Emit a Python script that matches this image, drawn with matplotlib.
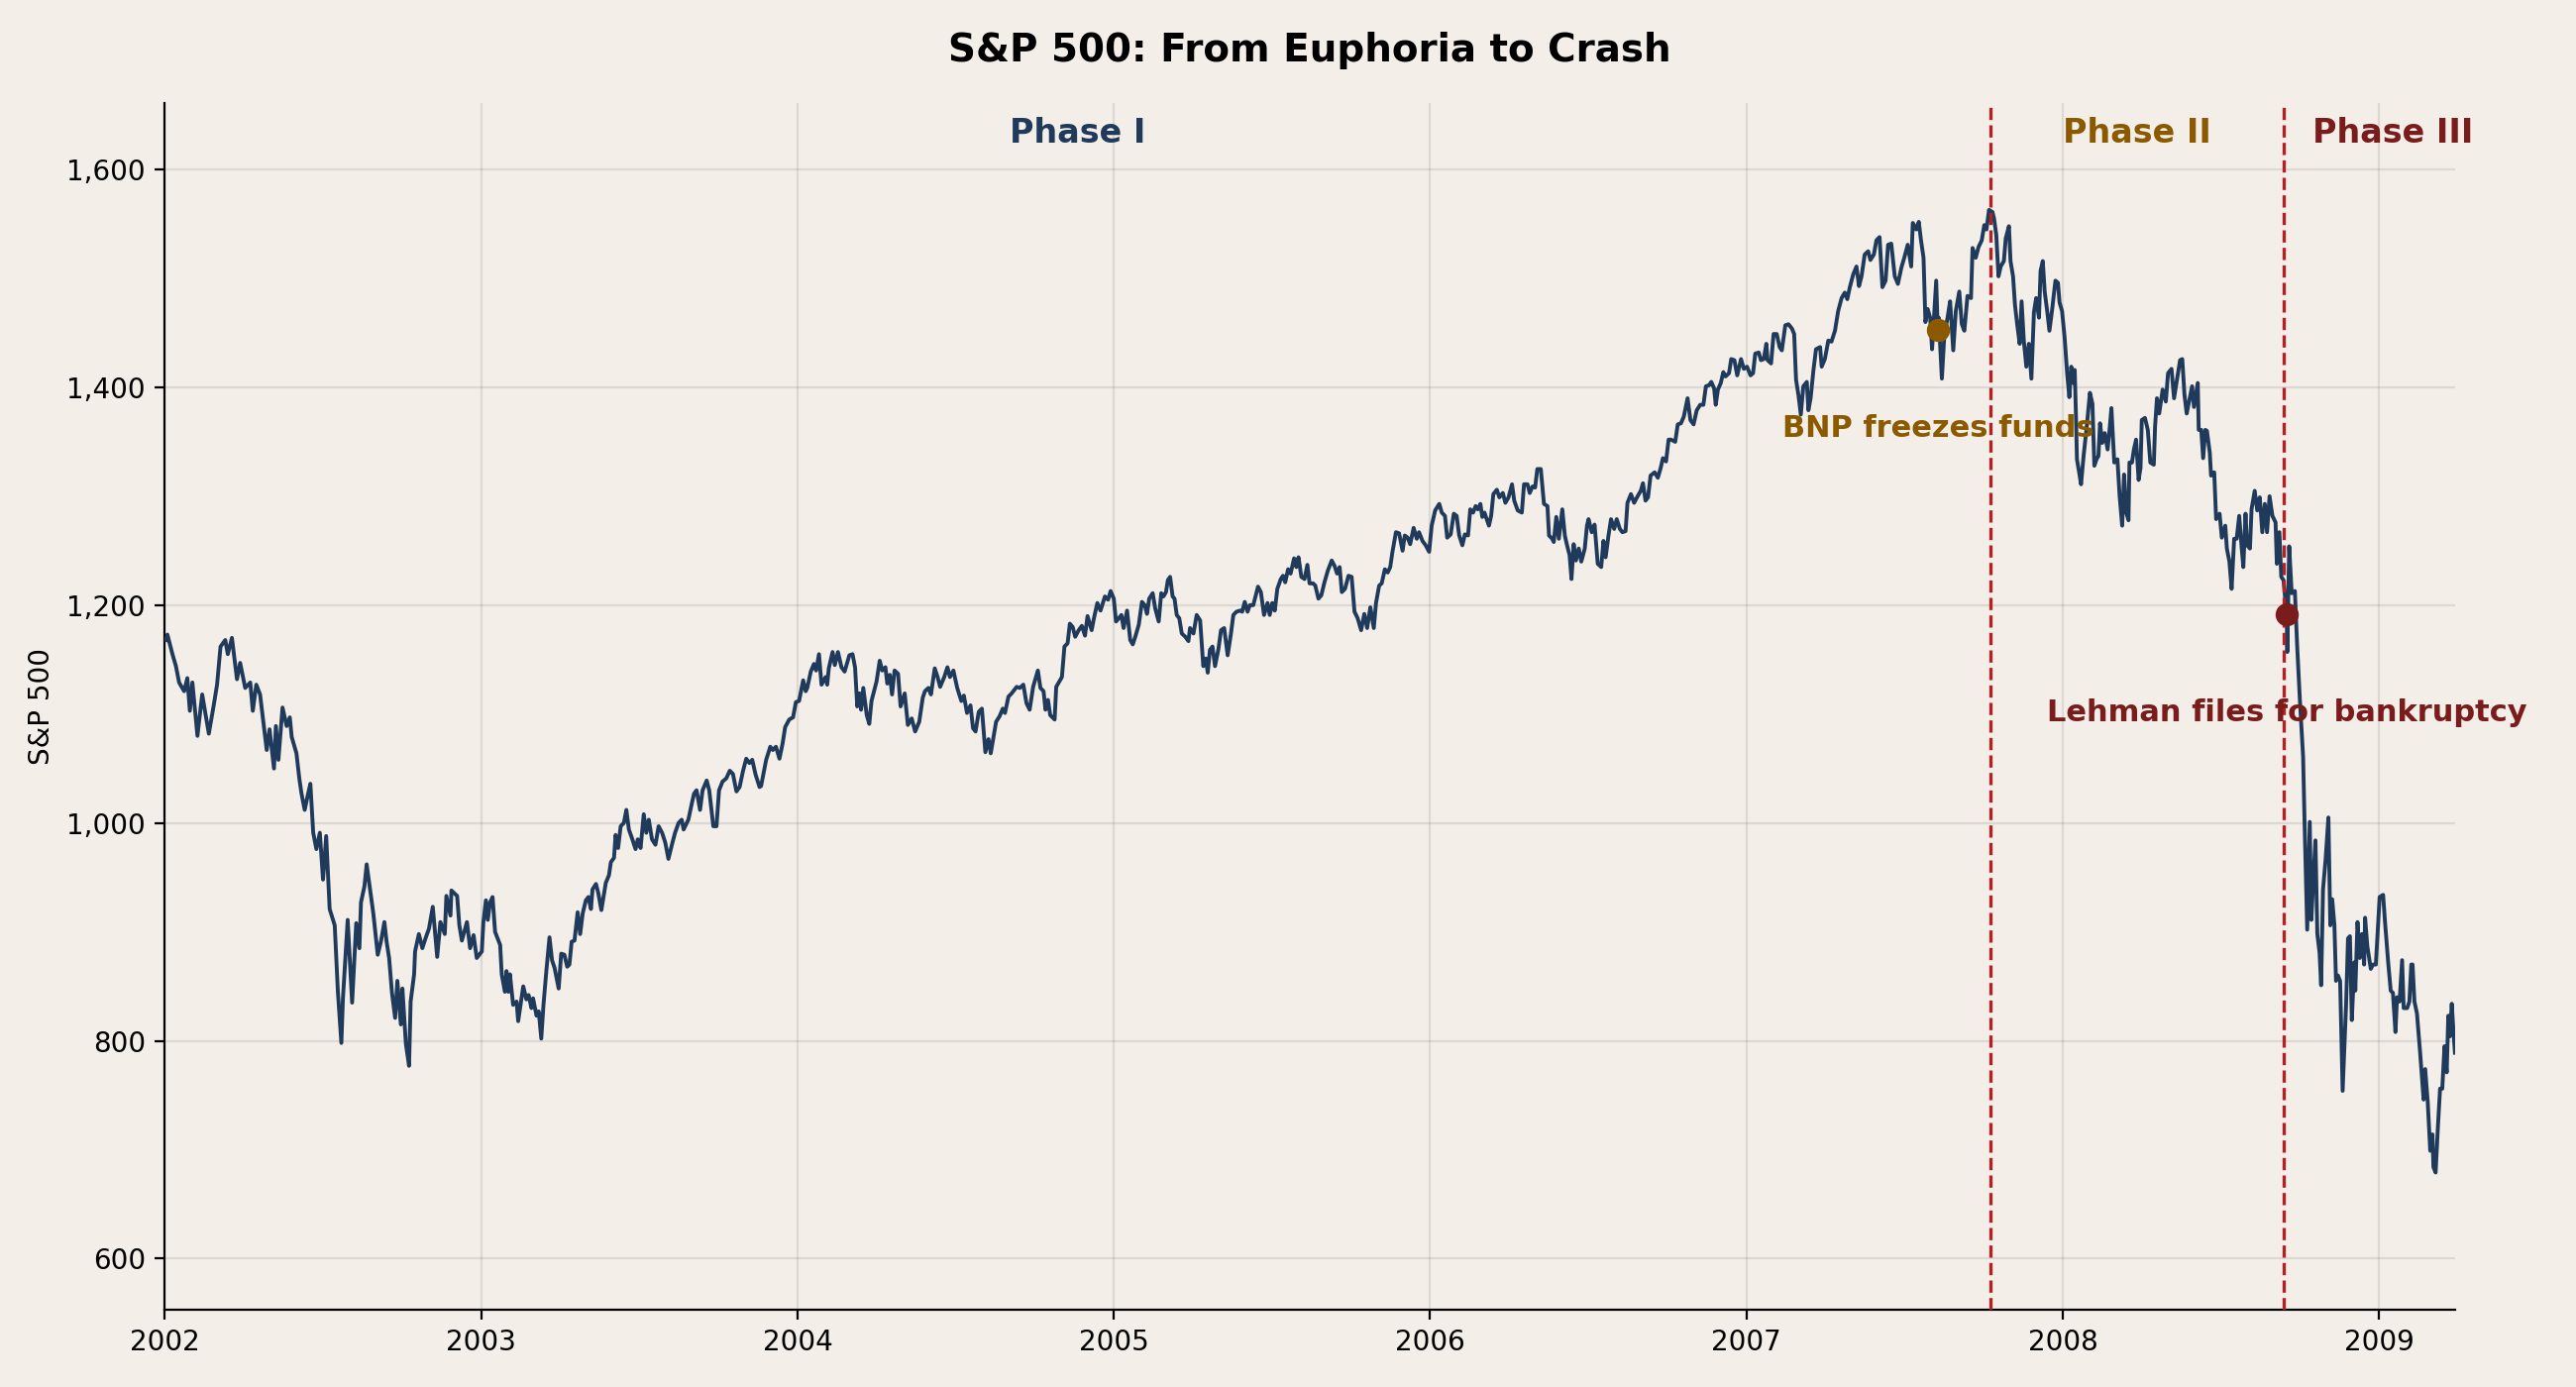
import numpy as np
import matplotlib
matplotlib.use("Agg")
import matplotlib.pyplot as plt
from matplotlib.ticker import FuncFormatter

# ---- data: fraction of year (t) and S&P 500 level (v) ----
frac_2002 = [0.003, 0.008, 0.024, 0.035, 0.045, 0.061, 0.071, 0.079, 0.087, 0.103,
             0.118, 0.139, 0.155, 0.165, 0.176, 0.191, 0.199, 0.212, 0.228, 0.238,
             0.254, 0.270, 0.278, 0.289, 0.301, 0.322, 0.331, 0.345, 0.351, 0.359,
             0.372, 0.385, 0.395, 0.401, 0.416, 0.425, 0.432, 0.442, 0.453, 0.460,
             0.469, 0.479, 0.490, 0.500, 0.510, 0.521, 0.537, 0.547, 0.558, 0.563,
             0.578, 0.592, 0.605, 0.615, 0.620, 0.631, 0.638, 0.646, 0.659, 0.673,
             0.683, 0.694, 0.701, 0.709, 0.718, 0.728, 0.735, 0.746, 0.751, 0.762,
             0.772, 0.777, 0.788, 0.791, 0.803, 0.814, 0.824, 0.835, 0.847, 0.861,
             0.871, 0.885, 0.890, 0.903, 0.906, 0.924, 0.931, 0.939, 0.955, 0.965,
             0.976, 0.986]
vals_2002 = [1168, 1173, 1155, 1144, 1129, 1121, 1133, 1103, 1129, 1080,
             1118, 1082, 1109, 1127, 1162, 1168, 1155, 1170, 1132, 1147,
             1124, 1129, 1103, 1127, 1118, 1067, 1086, 1050, 1089, 1058,
             1106, 1089, 1097, 1079, 1064, 1041, 1027, 1012, 1027, 1036,
             991, 976, 991, 948, 988, 921, 906, 845, 798, 839,
             911, 835, 908, 885, 927, 942, 962, 945, 917, 879,
             891, 909, 891, 876, 844, 821, 855, 815, 848, 797,
             777, 836, 861, 882, 898, 885, 894, 903, 923, 877,
             909, 898, 933, 915, 938, 933, 906, 892, 909, 885,
             897, 876]

frac_2003 = [0.002, 0.007, 0.015, 0.021, 0.028, 0.036, 0.044, 0.060, 0.065, 0.075,
             0.080, 0.086, 0.091, 0.101, 0.112, 0.117, 0.133, 0.143, 0.150, 0.159,
             0.164, 0.175, 0.182, 0.190, 0.197, 0.206, 0.216, 0.224, 0.232, 0.245,
             0.253, 0.263, 0.272, 0.279, 0.286, 0.295, 0.305, 0.313, 0.321, 0.331,
             0.339, 0.347, 0.352, 0.363, 0.370, 0.380, 0.394, 0.404, 0.410, 0.420,
             0.425, 0.433, 0.441, 0.451, 0.459, 0.467, 0.478, 0.488, 0.495, 0.504,
             0.514, 0.522, 0.530, 0.540, 0.551, 0.561, 0.572, 0.582, 0.592, 0.603,
             0.613, 0.624, 0.634, 0.640, 0.655, 0.666, 0.673, 0.681, 0.692, 0.700,
             0.713, 0.721, 0.734, 0.744, 0.752, 0.763, 0.775, 0.786, 0.796, 0.807,
             0.817, 0.828, 0.838, 0.848, 0.857, 0.867, 0.880, 0.885, 0.901, 0.914,
             0.922, 0.932, 0.943, 0.953, 0.961, 0.974, 0.986, 0.995]
vals_2003 = [882, 909, 929, 911, 927, 932, 900, 888, 861, 845,
             864, 845, 861, 833, 836, 818, 850, 838, 842, 830,
             839, 823, 827, 802, 833, 864, 895, 874, 867, 848,
             880, 879, 868, 870, 891, 892, 918, 898, 917, 929,
             932, 921, 939, 944, 936, 920, 945, 952, 964, 968,
             989, 977, 997, 1000, 1012, 994, 985, 976, 985, 977,
             1008, 991, 1003, 985, 980, 997, 991, 982, 967, 980,
             991, 1000, 1003, 994, 1003, 1018, 1027, 1030, 1012, 1030,
             1039, 1030, 997, 997, 1030, 1038, 1041, 1048, 1045, 1029,
             1033, 1048, 1059, 1055, 1058, 1045, 1033, 1034, 1058, 1070,
             1067, 1070, 1059, 1073, 1088, 1095, 1097, 1111]

frac_2004 = [0.005, 0.018, 0.026, 0.031, 0.042, 0.052, 0.059, 0.068, 0.076, 0.089,
             0.094, 0.099, 0.111, 0.118, 0.128, 0.139, 0.149, 0.164, 0.174, 0.182,
             0.189, 0.196, 0.201, 0.208, 0.219, 0.227, 0.234, 0.250, 0.260, 0.268,
             0.278, 0.284, 0.292, 0.299, 0.307, 0.318, 0.326, 0.339, 0.349, 0.361,
             0.372, 0.385, 0.396, 0.403, 0.414, 0.422, 0.434, 0.443, 0.451, 0.464,
             0.474, 0.482, 0.493, 0.505, 0.518, 0.526, 0.536, 0.547, 0.555, 0.563,
             0.573, 0.583, 0.594, 0.604, 0.611, 0.622, 0.628, 0.639, 0.649, 0.656,
             0.667, 0.677, 0.693, 0.703, 0.714, 0.724, 0.734, 0.745, 0.753, 0.760,
             0.768, 0.778, 0.784, 0.792, 0.799, 0.813, 0.818, 0.828, 0.836, 0.844,
             0.854, 0.861, 0.870, 0.878, 0.889, 0.899, 0.909, 0.917, 0.930, 0.938,
             0.948, 0.958, 0.972, 0.982, 0.990]
vals_2004 = [1112, 1131, 1121, 1124, 1139, 1146, 1140, 1155, 1127, 1134,
             1127, 1142, 1157, 1145, 1157, 1143, 1139, 1154, 1155, 1143,
             1107, 1119, 1104, 1124, 1099, 1091, 1112, 1130, 1149, 1140,
             1143, 1128, 1136, 1118, 1140, 1137, 1107, 1119, 1090, 1096,
             1084, 1093, 1115, 1121, 1124, 1118, 1142, 1134, 1125, 1134,
             1143, 1134, 1140, 1124, 1112, 1117, 1101, 1108, 1087, 1084,
             1102, 1105, 1065, 1077, 1064, 1083, 1093, 1098, 1105, 1101,
             1116, 1119, 1125, 1124, 1127, 1110, 1104, 1125, 1133, 1140,
             1124, 1121, 1104, 1113, 1099, 1095, 1125, 1130, 1134, 1162,
             1165, 1183, 1180, 1171, 1177, 1181, 1172, 1190, 1177, 1189,
             1202, 1195, 1208, 1205, 1213]

frac_2005 = [0.000, 0.007, 0.016, 0.024, 0.031, 0.042, 0.052, 0.060, 0.068, 0.079,
             0.089, 0.098, 0.105, 0.112, 0.123, 0.131, 0.142, 0.150, 0.157, 0.165,
             0.171, 0.178, 0.186, 0.192, 0.199, 0.207, 0.215, 0.226, 0.236, 0.241,
             0.252, 0.262, 0.273, 0.283, 0.291, 0.297, 0.304, 0.312, 0.320, 0.331,
             0.339, 0.349, 0.360, 0.370, 0.378, 0.388, 0.399, 0.406, 0.414, 0.423,
             0.430, 0.441, 0.448, 0.456, 0.465, 0.475, 0.486, 0.493, 0.501, 0.509,
             0.517, 0.528, 0.535, 0.542, 0.551, 0.559, 0.570, 0.577, 0.584, 0.593,
             0.603, 0.612, 0.619, 0.630, 0.637, 0.647, 0.656, 0.666, 0.677, 0.689,
             0.698, 0.706, 0.714, 0.721, 0.731, 0.742, 0.752, 0.761, 0.771, 0.782,
             0.792, 0.801, 0.811, 0.822, 0.829, 0.839, 0.847, 0.857, 0.866, 0.874,
             0.881, 0.892, 0.902, 0.913, 0.920, 0.929, 0.937, 0.948, 0.958, 0.965,
             0.976, 0.986, 0.997]
vals_2005 = [1206, 1185, 1188, 1191, 1179, 1195, 1168, 1164, 1171, 1182,
             1203, 1200, 1192, 1206, 1211, 1197, 1185, 1211, 1208, 1212,
             1223, 1226, 1208, 1206, 1191, 1188, 1174, 1171, 1167, 1179,
             1174, 1191, 1186, 1144, 1151, 1138, 1159, 1162, 1144, 1160,
             1177, 1179, 1154, 1173, 1191, 1194, 1195, 1194, 1203, 1194,
             1200, 1200, 1208, 1217, 1212, 1191, 1202, 1191, 1202, 1195,
             1215, 1224, 1227, 1221, 1233, 1229, 1243, 1235, 1244, 1226,
             1224, 1237, 1220, 1220, 1218, 1206, 1209, 1221, 1232, 1241,
             1236, 1229, 1235, 1212, 1215, 1227, 1226, 1194, 1188, 1177,
             1192, 1179, 1198, 1179, 1202, 1218, 1220, 1233, 1230, 1235,
             1249, 1267, 1266, 1250, 1264, 1262, 1256, 1271, 1261, 1267,
             1259, 1255, 1249]

frac_2006 = [0.005, 0.016, 0.029, 0.037, 0.047, 0.054, 0.065, 0.075, 0.084, 0.092,
             0.102, 0.110, 0.120, 0.127, 0.136, 0.144, 0.151, 0.159, 0.165, 0.172,
             0.186, 0.193, 0.200, 0.211, 0.219, 0.230, 0.238, 0.248, 0.259, 0.266,
             0.277, 0.290, 0.297, 0.308, 0.315, 0.324, 0.332, 0.339, 0.350, 0.360,
             0.371, 0.376, 0.386, 0.391, 0.399, 0.407, 0.418, 0.426, 0.433, 0.441,
             0.447, 0.454, 0.461, 0.470, 0.478, 0.489, 0.496, 0.501, 0.511, 0.520,
             0.530, 0.541, 0.548, 0.555, 0.564, 0.572, 0.582, 0.590, 0.600, 0.608,
             0.618, 0.624, 0.635, 0.645, 0.656, 0.666, 0.673, 0.681, 0.689, 0.697,
             0.710, 0.720, 0.729, 0.736, 0.746, 0.754, 0.762, 0.775, 0.783, 0.793,
             0.802, 0.814, 0.823, 0.833, 0.843, 0.854, 0.864, 0.872, 0.882, 0.889,
             0.898, 0.903, 0.910, 0.919, 0.927, 0.934, 0.945, 0.952, 0.962, 0.971,
             0.983, 0.992]
vals_2006 = [1273, 1287, 1293, 1285, 1282, 1262, 1265, 1284, 1282, 1264,
             1255, 1265, 1264, 1288, 1285, 1291, 1288, 1293, 1281, 1285,
             1273, 1282, 1302, 1306, 1299, 1303, 1294, 1299, 1311, 1296,
             1287, 1285, 1311, 1311, 1303, 1309, 1308, 1325, 1325, 1293,
             1291, 1264, 1261, 1258, 1281, 1261, 1288, 1264, 1255, 1246,
             1224, 1256, 1241, 1252, 1240, 1252, 1273, 1279, 1267, 1274,
             1238, 1235, 1259, 1244, 1264, 1279, 1270, 1279, 1270, 1267,
             1268, 1294, 1302, 1294, 1300, 1305, 1312, 1296, 1299, 1319,
             1322, 1317, 1326, 1335, 1332, 1352, 1352, 1350, 1366, 1367,
             1373, 1390, 1370, 1366, 1379, 1384, 1384, 1401, 1402, 1405,
             1399, 1384, 1398, 1404, 1414, 1410, 1413, 1426, 1425, 1411,
             1426, 1417]

frac_2007 = [0.002, 0.013, 0.021, 0.028, 0.039, 0.046, 0.055, 0.063, 0.067, 0.078,
             0.086, 0.096, 0.105, 0.112, 0.123, 0.133, 0.144, 0.151, 0.157, 0.165,
             0.172, 0.180, 0.191, 0.196, 0.203, 0.212, 0.220, 0.233, 0.238, 0.248,
             0.259, 0.269, 0.280, 0.290, 0.301, 0.311, 0.319, 0.327, 0.338, 0.348,
             0.356, 0.364, 0.374, 0.385, 0.392, 0.403, 0.411, 0.421, 0.430, 0.440,
             0.448, 0.458, 0.469, 0.479, 0.490, 0.500, 0.510, 0.521, 0.526, 0.537,
             0.545, 0.552, 0.560, 0.566, 0.573, 0.581, 0.587, 0.594, 0.600, 0.605,
             0.608, 0.618, 0.626, 0.636, 0.644, 0.654, 0.662, 0.673, 0.681, 0.689,
             0.699, 0.710, 0.715, 0.725, 0.734, 0.744, 0.752, 0.759, 0.767, 0.778,
             0.783, 0.790, 0.797, 0.804, 0.814, 0.820, 0.830, 0.835, 0.843, 0.849,
             0.856, 0.864, 0.870, 0.877, 0.885, 0.893, 0.901, 0.909, 0.916, 0.925,
             0.930, 0.937, 0.943, 0.951, 0.958, 0.966, 0.977, 0.985, 0.990, 0.998]
vals_2007 = [1419, 1411, 1413, 1431, 1432, 1425, 1426, 1440, 1425, 1422,
             1449, 1449, 1437, 1434, 1457, 1458, 1454, 1449, 1407, 1392,
             1375, 1401, 1405, 1379, 1390, 1416, 1435, 1437, 1419, 1426,
             1443, 1442, 1452, 1470, 1482, 1487, 1481, 1492, 1504, 1511,
             1493, 1502, 1522, 1525, 1517, 1522, 1535, 1538, 1492, 1498,
             1531, 1532, 1502, 1495, 1510, 1520, 1531, 1511, 1551, 1545,
             1552, 1535, 1519, 1460, 1472, 1464, 1435, 1469, 1498, 1453,
             1464, 1408, 1449, 1464, 1479, 1434, 1470, 1488, 1458, 1452,
             1484, 1482, 1528, 1519, 1529, 1535, 1549, 1545, 1563, 1561,
             1555, 1540, 1502, 1511, 1516, 1537, 1548, 1516, 1502, 1476,
             1458, 1440, 1479, 1443, 1419, 1440, 1408, 1469, 1482, 1464,
             1507, 1516, 1488, 1470, 1452, 1470, 1498, 1496, 1478, 1470]

frac_2008 = [0.006, 0.014, 0.021, 0.027, 0.034, 0.038, 0.042, 0.045, 0.052, 0.058,
             0.066, 0.076, 0.086, 0.094, 0.100, 0.107, 0.113, 0.118, 0.125, 0.133,
             0.142, 0.149, 0.154, 0.163, 0.173, 0.180, 0.188, 0.194, 0.201, 0.208,
             0.211, 0.219, 0.225, 0.232, 0.240, 0.246, 0.250, 0.260, 0.269, 0.277,
             0.288, 0.292, 0.298, 0.305, 0.316, 0.326, 0.333, 0.344, 0.352, 0.360,
             0.371, 0.378, 0.385, 0.392, 0.400, 0.409, 0.415, 0.427, 0.430, 0.438,
             0.444, 0.451, 0.456, 0.465, 0.469, 0.479, 0.485, 0.496, 0.503, 0.514,
             0.519, 0.527, 0.534, 0.542, 0.550, 0.558, 0.566, 0.571, 0.578, 0.583,
             0.592, 0.597, 0.607, 0.615, 0.623, 0.631, 0.639, 0.646, 0.654, 0.663,
             0.673, 0.677, 0.685, 0.691, 0.698, 0.708, 0.710, 0.716, 0.724, 0.734,
             0.741, 0.750, 0.760, 0.765, 0.773, 0.781, 0.786, 0.791, 0.799, 0.805,
             0.812, 0.817, 0.823, 0.831, 0.840, 0.846, 0.852, 0.859, 0.864, 0.870,
             0.877, 0.885, 0.896, 0.902, 0.908, 0.914, 0.922, 0.925, 0.932, 0.939,
             0.946, 0.953, 0.956, 0.963, 0.974, 0.981, 0.990]
vals_2008 = [1446, 1413, 1391, 1419, 1404, 1416, 1373, 1334, 1322, 1311,
             1337, 1364, 1395, 1385, 1328, 1334, 1337, 1367, 1349, 1358,
             1343, 1364, 1381, 1331, 1334, 1300, 1273, 1320, 1285, 1278,
             1331, 1331, 1343, 1352, 1315, 1326, 1370, 1372, 1361, 1331,
             1329, 1364, 1390, 1376, 1398, 1387, 1413, 1417, 1390, 1405,
             1425, 1426, 1393, 1376, 1388, 1401, 1382, 1404, 1361, 1361,
             1335, 1361, 1360, 1340, 1319, 1322, 1279, 1284, 1262, 1273,
             1252, 1240, 1215, 1261, 1261, 1282, 1252, 1235, 1284, 1255,
             1252, 1288, 1305, 1287, 1299, 1267, 1293, 1267, 1300, 1282,
             1276, 1238, 1267, 1226, 1223, 1192, 1157, 1254, 1211, 1213,
             1164, 1112, 1061, 996, 902, 1001, 911, 941, 984, 898,
             881, 851, 939, 966, 1005, 906, 930, 906, 855, 860,
             855, 754, 834, 894, 896, 819, 872, 846, 909, 876,
             898, 870, 913, 887, 866, 870, 870]

frac_2009 = [0.002, 0.013, 0.019, 0.029, 0.037, 0.044, 0.052, 0.057, 0.065, 0.073,
             0.078, 0.089, 0.096, 0.102, 0.106, 0.112, 0.120, 0.130, 0.141, 0.146,
             0.154, 0.162, 0.169, 0.172, 0.179, 0.186, 0.193, 0.200, 0.207, 0.214,
             0.219, 0.224, 0.230, 0.235, 0.240]
vals_2009 = [932, 934, 909, 872, 846, 844, 808, 840, 836, 874,
             830, 830, 836, 870, 870, 836, 825, 789, 746, 774,
             744, 699, 714, 684, 679, 720, 756, 756, 795, 771,
             823, 804, 834, 810, 789]

# phases (decimal years) and events
phase_bounds = [2002.0, 2007.773, 2008.698, 2009.39]
phase_labels = ["Phase I", "Phase II", "Phase III"]
event_labels = ["BNP freezes funds", "Lehman files for bankruptcy"]
event_dates = [2007.605, 2008.708]
event_values = [1453, 1192]

year_ticks = [2002, 2003, 2004, 2005, 2006, 2007, 2008, 2009]
value_ticks = [600, 800, 1000, 1200, 1400, 1600]

# ---- styling ----
BG = "#F3EEE8"
NAVY = "#1F3A5A"
GOLD = "#8B5A00"
DARKRED = "#7B1C1C"
VLINE = "#B22222"
phase_colors = [NAVY, GOLD, DARKRED]
event_colors = [GOLD, DARKRED]

segments = [(2002, frac_2002, vals_2002), (2003, frac_2003, vals_2003),
            (2004, frac_2004, vals_2004), (2005, frac_2005, vals_2005),
            (2006, frac_2006, vals_2006), (2007, frac_2007, vals_2007),
            (2008, frac_2008, vals_2008), (2009, frac_2009, vals_2009)]
t = np.concatenate([yr + np.asarray(f) for yr, f, _ in segments])
v = np.concatenate([np.asarray(vv, dtype=float) for _, _, vv in segments])

plt.rcParams['font.family'] = ['DejaVu Sans']
fig, ax = plt.subplots(figsize=(13, 7), dpi=200)
fig.patch.set_facecolor(BG)
ax.set_facecolor(BG)
fig.subplots_adjust(left=0.064, right=0.953, top=0.926, bottom=0.056)

ax.grid(True, color="#808080", alpha=0.2, linewidth=0.8)
ax.set_axisbelow(True)

ax.plot(t, v, color=NAVY, linewidth=1.4, zorder=3)

for b in phase_bounds[1:3]:
    ax.axvline(b, color=VLINE, linestyle="--", linewidth=1.2, zorder=4)

for i, lab in enumerate(phase_labels):
    xm = (phase_bounds[i] + phase_bounds[i + 1]) / 2
    ax.text(xm, 0.975, lab, transform=ax.get_xaxis_transform(), ha="center",
            va="center", fontsize=12, fontweight="bold", color=phase_colors[i],
            clip_on=False)

for lab, d, val, c in zip(event_labels, event_dates, event_values, event_colors):
    ax.scatter([d], [val], s=55, color=c, zorder=5)
    ax.annotate(lab, xy=(d, val), xytext=(0, -36), textcoords="offset points",
                ha="center", va="center", fontsize=11, fontweight="bold",
                color=c, annotation_clip=False, zorder=6)

ax.set_xlim(2002.0, t[-1])
ax.set_ylim(v.min() * 0.815, v.max() * 1.063)
ax.set_xticks(year_ticks)
ax.set_xticklabels([str(y) for y in year_ticks])
ax.set_yticks(value_ticks)
ax.yaxis.set_major_formatter(FuncFormatter(lambda x, p: f"{x:,.0f}"))
ax.tick_params(labelsize=10)
ax.set_ylabel("S&P 500", fontsize=10)
ax.set_title("S&P 500: From Euphoria to Crash", fontsize=14, fontweight="bold", pad=15)
for s in ["top", "right"]:
    ax.spines[s].set_visible(False)

fig.savefig("out.png", dpi=200, facecolor=BG)
